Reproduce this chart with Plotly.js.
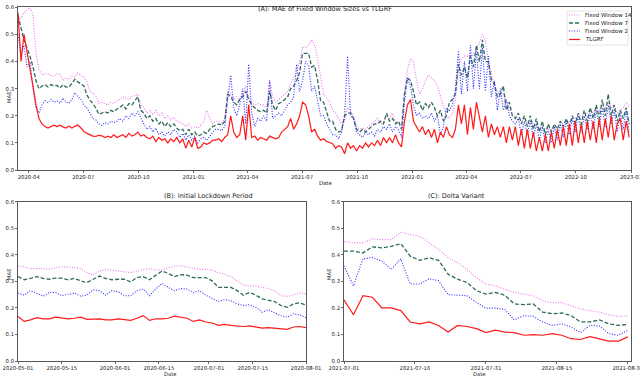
<!DOCTYPE html>
<html>
<head>
<meta charset="utf-8">
<script src="https://cdn.plot.ly/plotly-3.0.1.min.js"></script>
<style>
  html, body { margin: 0; padding: 0; background: white; }
  #plot { width: 640px; height: 379px; }
</style>
</head>
<body>
<div id="plot"></div>
<script>
// --- Data: full period, one reading every 5 days from 2020-03-14 ---
const fullStart = "2020-03-14";
const fullStepDays = 5;

const fw14Full = [
  0.54, 0.56, 0.58, 0.59, 0.60, 0.57, 0.43, 0.37, 0.35, 0.355,
  0.355, 0.348, 0.345, 0.355, 0.352, 0.33, 0.339, 0.335, 0.345, 0.343,
  0.358, 0.348, 0.342, 0.325, 0.29, 0.283, 0.273, 0.246, 0.25, 0.245,
  0.24, 0.25, 0.245, 0.255, 0.26, 0.27, 0.265, 0.26, 0.27, 0.275,
  0.28, 0.24, 0.23, 0.21, 0.22, 0.205, 0.22, 0.20, 0.21, 0.19,
  0.20, 0.185, 0.195, 0.18, 0.175, 0.17, 0.16, 0.17, 0.155, 0.16,
  0.155, 0.165, 0.18, 0.22, 0.19, 0.17, 0.18, 0.18, 0.175, 0.19,
  0.29, 0.28, 0.26, 0.27, 0.26, 0.28, 0.31, 0.27, 0.25, 0.24,
  0.245, 0.24, 0.24, 0.23, 0.33, 0.27, 0.25, 0.26, 0.27, 0.28,
  0.29, 0.32, 0.34, 0.36, 0.40, 0.455, 0.45, 0.46, 0.48, 0.46,
  0.41, 0.35, 0.28, 0.265, 0.25, 0.22, 0.21, 0.19, 0.17, 0.18,
  0.23, 0.22, 0.20, 0.16, 0.15, 0.155, 0.15, 0.16, 0.17, 0.18,
  0.19, 0.17, 0.18, 0.20, 0.19, 0.21, 0.18, 0.17, 0.16, 0.29,
  0.37, 0.41, 0.40, 0.33, 0.28, 0.30, 0.33, 0.35, 0.34, 0.33,
  0.31, 0.27, 0.24, 0.20, 0.19, 0.21, 0.26, 0.38, 0.41, 0.42,
  0.42, 0.41, 0.43, 0.44, 0.47, 0.50, 0.48, 0.40, 0.36, 0.30,
  0.29, 0.27, 0.28, 0.25, 0.23, 0.20, 0.20, 0.19, 0.18, 0.19,
  0.17, 0.18, 0.16, 0.17, 0.15, 0.16, 0.15, 0.155, 0.15, 0.16,
  0.16, 0.17, 0.17, 0.18, 0.18, 0.19, 0.19, 0.20, 0.20, 0.21,
  0.21, 0.22, 0.21, 0.23, 0.22, 0.24, 0.23, 0.25, 0.23, 0.24,
  0.21, 0.22, 0.23, 0.25, 0.23
];

const fw7Full = [
  0.57, 0.52, 0.48, 0.45, 0.42, 0.38, 0.33, 0.30, 0.31, 0.315,
  0.306, 0.315, 0.31, 0.312, 0.302, 0.315, 0.306, 0.305, 0.318, 0.335,
  0.325, 0.318, 0.31, 0.277, 0.258, 0.245, 0.228, 0.205, 0.21, 0.215,
  0.21, 0.22, 0.215, 0.225, 0.23, 0.24, 0.225, 0.245, 0.24, 0.255,
  0.27, 0.22, 0.21, 0.19, 0.20, 0.18, 0.19, 0.17, 0.18, 0.16,
  0.175, 0.16, 0.17, 0.155, 0.145, 0.15, 0.13, 0.15, 0.13, 0.14,
  0.125, 0.13, 0.14, 0.135, 0.15, 0.16, 0.165, 0.17, 0.165, 0.18,
  0.28, 0.27, 0.25, 0.24, 0.26, 0.27, 0.29, 0.26, 0.24, 0.23,
  0.22, 0.215, 0.22, 0.21, 0.29, 0.24, 0.22, 0.245, 0.25, 0.26,
  0.27, 0.30, 0.31, 0.33, 0.36, 0.43, 0.43, 0.43, 0.38, 0.385,
  0.33, 0.255, 0.25, 0.215, 0.18, 0.18, 0.15, 0.14, 0.145, 0.20,
  0.21, 0.21, 0.19, 0.15, 0.14, 0.15, 0.14, 0.15, 0.16, 0.17,
  0.17, 0.18, 0.17, 0.21, 0.18, 0.19, 0.17, 0.18, 0.15, 0.28,
  0.34, 0.33, 0.29, 0.24, 0.25, 0.22, 0.245, 0.23, 0.25, 0.23,
  0.20, 0.22, 0.18, 0.20, 0.25, 0.26, 0.28, 0.39, 0.35, 0.38,
  0.34, 0.42, 0.38, 0.46, 0.40, 0.48, 0.40, 0.40, 0.33, 0.32,
  0.27, 0.28, 0.31, 0.22, 0.25, 0.20, 0.19, 0.21, 0.17, 0.20,
  0.16, 0.20, 0.15, 0.19, 0.14, 0.18, 0.13, 0.17, 0.14, 0.17,
  0.15, 0.18, 0.16, 0.19, 0.16, 0.20, 0.17, 0.21, 0.17, 0.22,
  0.18, 0.23, 0.19, 0.24, 0.19, 0.26, 0.20, 0.28, 0.20, 0.24,
  0.18, 0.22, 0.19, 0.23, 0.17
];

const fw2Full = [
  0.50, 0.42, 0.46, 0.38, 0.40, 0.30, 0.23, 0.21, 0.24, 0.255,
  0.248, 0.26, 0.25, 0.255, 0.246, 0.265, 0.25, 0.246, 0.26, 0.285,
  0.27, 0.26, 0.24, 0.228, 0.21, 0.19, 0.185, 0.17, 0.165, 0.175,
  0.17, 0.18, 0.175, 0.18, 0.19, 0.18, 0.20, 0.19, 0.21, 0.20,
  0.215, 0.19, 0.17, 0.15, 0.16, 0.14, 0.155, 0.13, 0.14, 0.125,
  0.14, 0.13, 0.15, 0.14, 0.12, 0.135, 0.11, 0.13, 0.11, 0.125,
  0.10, 0.115, 0.12, 0.11, 0.125, 0.14, 0.15, 0.15, 0.145, 0.16,
  0.26, 0.35, 0.23, 0.20, 0.24, 0.30, 0.17, 0.39, 0.21, 0.16,
  0.19, 0.18, 0.20, 0.18, 0.33, 0.19, 0.20, 0.21, 0.20, 0.22,
  0.24, 0.25, 0.27, 0.39, 0.29, 0.33, 0.40, 0.385, 0.29, 0.31,
  0.25, 0.20, 0.20, 0.17, 0.15, 0.13, 0.13, 0.115, 0.14, 0.20,
  0.42, 0.20, 0.19, 0.14, 0.13, 0.12, 0.14, 0.13, 0.14, 0.125,
  0.15, 0.14, 0.16, 0.15, 0.17, 0.14, 0.16, 0.15, 0.12, 0.25,
  0.34, 0.31, 0.24, 0.20, 0.21, 0.19, 0.20, 0.19, 0.21, 0.18,
  0.20, 0.13, 0.16, 0.23, 0.22, 0.24, 0.30, 0.44, 0.28, 0.40,
  0.29, 0.46, 0.30, 0.44, 0.30, 0.45, 0.29, 0.42, 0.27, 0.33,
  0.22, 0.30, 0.22, 0.26, 0.20, 0.18, 0.17, 0.19, 0.13, 0.18,
  0.13, 0.18, 0.12, 0.17, 0.11, 0.16, 0.10, 0.15, 0.10, 0.16,
  0.11, 0.17, 0.12, 0.18, 0.13, 0.19, 0.14, 0.20, 0.14, 0.20,
  0.15, 0.21, 0.15, 0.22, 0.16, 0.23, 0.16, 0.24, 0.17, 0.22,
  0.14, 0.21, 0.15, 0.22, 0.14
];

const tlgrfFull = [
  0.58, 0.40, 0.50, 0.44, 0.38, 0.31, 0.24, 0.19, 0.17, 0.16,
  0.155, 0.159, 0.165, 0.16, 0.165, 0.159, 0.155, 0.162, 0.155, 0.161,
  0.166, 0.155, 0.142, 0.135, 0.13, 0.125, 0.124, 0.128, 0.126, 0.12,
  0.125, 0.12, 0.13, 0.12, 0.125, 0.13, 0.12, 0.135, 0.125, 0.13,
  0.14, 0.125, 0.13, 0.12, 0.115, 0.125, 0.105, 0.12, 0.11, 0.115,
  0.10, 0.115, 0.105, 0.12, 0.10, 0.115, 0.08, 0.11, 0.085, 0.12,
  0.08, 0.085, 0.10, 0.095, 0.10, 0.11, 0.11, 0.115, 0.105, 0.12,
  0.13, 0.20, 0.14, 0.12, 0.13, 0.20, 0.11, 0.24, 0.12, 0.125,
  0.11, 0.12, 0.115, 0.11, 0.125, 0.12, 0.115, 0.12, 0.14, 0.15,
  0.16, 0.19, 0.15, 0.17, 0.20, 0.25, 0.24, 0.20, 0.14, 0.15,
  0.125, 0.11, 0.115, 0.105, 0.10, 0.097, 0.08, 0.09, 0.085, 0.06,
  0.10, 0.08, 0.09, 0.07, 0.09, 0.08, 0.10, 0.085, 0.10, 0.09,
  0.11, 0.09, 0.12, 0.10, 0.12, 0.10, 0.13, 0.10, 0.085, 0.18,
  0.24, 0.26, 0.18, 0.16, 0.14, 0.16, 0.13, 0.15, 0.12, 0.15,
  0.10, 0.14, 0.12, 0.16, 0.13, 0.12, 0.15, 0.24, 0.17, 0.24,
  0.13, 0.23, 0.15, 0.25, 0.20, 0.14, 0.20, 0.12, 0.17, 0.13,
  0.16, 0.12, 0.16, 0.10, 0.16, 0.11, 0.16, 0.09, 0.15, 0.08,
  0.15, 0.08, 0.14, 0.07, 0.12, 0.07, 0.13, 0.07, 0.14, 0.08,
  0.15, 0.09, 0.16, 0.09, 0.17, 0.09, 0.18, 0.10, 0.17, 0.10,
  0.18, 0.11, 0.18, 0.10, 0.19, 0.11, 0.19, 0.12, 0.20, 0.11,
  0.17, 0.19, 0.11, 0.18, 0.12
];

// --- Data: (B) initial lockdown, every 2 days from 2020-05-01 ---
const lockStart = "2020-05-01";
const lockStepDays = 2;
const fw14Lock = [
  0.358, 0.355, 0.348, 0.348, 0.348, 0.345, 0.352, 0.355, 0.354, 0.352,
  0.348, 0.333, 0.323, 0.339, 0.345, 0.342, 0.339, 0.335, 0.333, 0.338,
  0.345, 0.348, 0.343, 0.343, 0.352, 0.358, 0.358, 0.354, 0.348, 0.345,
  0.345, 0.342, 0.333, 0.327, 0.318, 0.302, 0.286, 0.283, 0.283, 0.277,
  0.273, 0.265, 0.246, 0.244, 0.248, 0.256, 0.252
];
const fw7Lock = [
  0.318, 0.306, 0.311, 0.318, 0.311, 0.308, 0.312, 0.312, 0.306, 0.311,
  0.302, 0.295, 0.308, 0.32, 0.311, 0.306, 0.308, 0.308, 0.298, 0.314,
  0.318, 0.306, 0.323, 0.339, 0.33, 0.318, 0.325, 0.323, 0.314, 0.314,
  0.314, 0.302, 0.277, 0.277, 0.277, 0.265, 0.248, 0.258, 0.248, 0.234,
  0.23, 0.224, 0.209, 0.202, 0.215, 0.219, 0.211
];
const fw2Lock = [
  0.256, 0.248, 0.265, 0.256, 0.244, 0.258, 0.258, 0.246, 0.252, 0.256,
  0.244, 0.248, 0.268, 0.265, 0.248, 0.265, 0.261, 0.246, 0.246, 0.265,
  0.271, 0.246, 0.271, 0.292, 0.277, 0.265, 0.273, 0.271, 0.258, 0.265,
  0.248, 0.236, 0.224, 0.231, 0.227, 0.215, 0.209, 0.212, 0.202, 0.184,
  0.193, 0.181, 0.171, 0.165, 0.178, 0.174, 0.163
];
const tlgrfLock = [
  0.168, 0.149, 0.155, 0.163, 0.159, 0.159, 0.165, 0.163, 0.159, 0.161,
  0.165, 0.157, 0.159, 0.159, 0.155, 0.155, 0.159, 0.155, 0.153, 0.161,
  0.171, 0.153, 0.159, 0.159, 0.161, 0.169, 0.165, 0.161, 0.149, 0.155,
  0.147, 0.143, 0.134, 0.138, 0.134, 0.132, 0.13, 0.132, 0.128, 0.124,
  0.126, 0.124, 0.122, 0.119, 0.128, 0.13, 0.126
];

// --- Data: (C) delta variant, every 2 days from 2021-07-01 ---
const deltaStart = "2021-07-01";
const deltaStepDays = 2;
const fw14Delta = [
  0.45, 0.445, 0.445, 0.46, 0.457, 0.457, 0.485, 0.476, 0.47, 0.445,
  0.42, 0.39, 0.37, 0.345, 0.314, 0.29, 0.283, 0.27, 0.258, 0.252,
  0.246, 0.227, 0.219, 0.22, 0.209, 0.196, 0.19, 0.184, 0.174, 0.168, 0.171
];
const fw7Delta = [
  0.414, 0.414, 0.407, 0.43, 0.426, 0.432, 0.442, 0.395, 0.379, 0.389,
  0.379, 0.327, 0.308, 0.296, 0.265, 0.252, 0.258, 0.248, 0.215, 0.212,
  0.215, 0.184, 0.178, 0.181, 0.171, 0.147, 0.147, 0.155, 0.14, 0.134, 0.138
];
const fw2Delta = [
  0.358, 0.283, 0.385, 0.39, 0.376, 0.345, 0.385, 0.29, 0.29, 0.31,
  0.302, 0.25, 0.248, 0.246, 0.221, 0.199, 0.199, 0.194, 0.155, 0.171,
  0.168, 0.147, 0.134, 0.14, 0.128, 0.107, 0.134, 0.132, 0.103, 0.097, 0.116
];
const tlgrfDelta = [
  0.23, 0.174, 0.246, 0.24, 0.2, 0.2, 0.19, 0.147, 0.14, 0.147,
  0.134, 0.109, 0.134, 0.13, 0.122, 0.107, 0.116, 0.109, 0.107, 0.097,
  0.099, 0.097, 0.103, 0.097, 0.084, 0.081, 0.092, 0.084, 0.075, 0.075, 0.091
];

const seriesNames = ["Fixed Window 14", "Fixed Window 7", "Fixed Window 2", "TLGRF"];
const yTicks = [0, 0.1, 0.2, 0.3, 0.4, 0.5, 0.6];
const lockTicks = ["2020-05-01", "2020-05-15", "2020-06-01", "2020-06-15", "2020-07-01", "2020-07-15", "2020-08-01"];
const deltaTicks = ["2021-07-01", "2021-07-16", "2021-07-31", "2021-08-15", "2021-08-30"];

// --- helpers ---
function dateSeries(start, step, n) {
  const out = [];
  const t0 = new Date(start + "T00:00:00Z").getTime();
  for (let i = 0; i < n; i++) {
    out.push(new Date(t0 + i * step * 86400000).toISOString().slice(0, 10));
  }
  return out;
}

const styles = [
  { color: "#ee6fee", width: 1.1, dash: "1px,1.6px" },
  { color: "#2f6b5c", width: 1.3, dash: "4px,2px" },
  { color: "#2b2bff", width: 1.1, dash: "1px,1.6px" },
  { color: "#ff1a1a", width: 1.2, dash: "solid" }
];

function makeTraces(dates, sets, xa, ya) {
  return sets.map((vals, k) => ({
    x: dates,
    y: vals,
    xaxis: xa,
    yaxis: ya,
    type: "scatter",
    mode: "lines",
    name: seriesNames[k],
    showlegend: false,
    line: styles[k]
  }));
}

const fullDates = dateSeries(fullStart, fullStepDays, tlgrfFull.length);
const lockDates = dateSeries(lockStart, lockStepDays, tlgrfLock.length);
const deltaDates = dateSeries(deltaStart, deltaStepDays, tlgrfDelta.length);

const data = [
  ...makeTraces(fullDates, [fw14Full, fw7Full, fw2Full, tlgrfFull], "x", "y"),
  ...makeTraces(lockDates, [fw14Lock, fw7Lock, fw2Lock, tlgrfLock], "x2", "y2"),
  ...makeTraces(deltaDates, [fw14Delta, fw7Delta, fw2Delta, tlgrfDelta], "x3", "y3")
];

// --- Layout ---
const W = 640, H = 379;
const px = v => v / W;
const py = v => 1 - v / H;

const font = { family: "DejaVu Sans, sans-serif", size: 5.3, color: "#222" };
const axisBase = {
  showgrid: false,
  zeroline: false,
  showline: true,
  mirror: true,
  linecolor: "#444",
  linewidth: 0.9,
  ticks: "outside",
  ticklen: 2,
  tickwidth: 0.8,
  tickcolor: "#444",
  tickfont: font,
  ticklabeloverflow: "allow"
};
const yBase = Object.assign({}, axisBase, {
  range: [0, 0.6], tickvals: yTicks, tickformat: ".1f"
});

function ann(text, x, y, size, opts) {
  return Object.assign({
    text: text, x: x, y: y, xref: "paper", yref: "paper",
    showarrow: false,
    font: { family: "DejaVu Sans, sans-serif", size: size, color: "#222" }
  }, opts || {});
}

// hand-made compact legend (Plotly's own legend rows are too tall at this size)
const legendRows = [15, 23, 31, 39.5];
const legendShapes = [{
  type: "rect", xref: "paper", yref: "paper",
  x0: px(567), x1: px(628), y0: py(11), y1: py(45),
  fillcolor: "rgba(255,255,255,0.9)", line: { color: "#ddd", width: 0.8 }
}];
const legendNotes = [];
seriesNames.forEach((name, k) => {
  legendShapes.push({
    type: "line", xref: "paper", yref: "paper",
    x0: px(569), x1: px(580), y0: py(legendRows[k]), y1: py(legendRows[k]),
    line: styles[k]
  });
  legendNotes.push(ann(name, px(583), py(legendRows[k]), 5.5,
    { xanchor: "left", yanchor: "middle" }));
});

const layout = {
  width: W,
  height: H,
  margin: { l: 0, r: 0, t: 0, b: 0 },
  paper_bgcolor: "white",
  plot_bgcolor: "white",
  font: font,
  showlegend: false,
  xaxis: Object.assign({}, axisBase, {
    domain: [px(18), px(631)], anchor: "y", type: "date",
    range: ["2020-03-14", "2023-01-01"],
    tick0: "2020-04-01", dtick: "M3", tickformat: "%Y-%m"
  }),
  yaxis: Object.assign({}, yBase, { domain: [py(170), py(7.3)], anchor: "x" }),
  xaxis2: Object.assign({}, axisBase, {
    domain: [px(18), px(306)], anchor: "y2", type: "date",
    range: ["2020-05-01", "2020-08-01"],
    tickvals: lockTicks, tickformat: "%Y-%m-%d"
  }),
  yaxis2: Object.assign({}, yBase, { domain: [py(361), py(201.7)], anchor: "x2" }),
  xaxis3: Object.assign({}, axisBase, {
    domain: [px(344), px(631)], anchor: "y3", type: "date",
    range: ["2021-07-01", "2021-08-30 16:00"],
    tickvals: deltaTicks, tickformat: "%Y-%m-%d"
  }),
  yaxis3: Object.assign({}, yBase, { domain: [py(361), py(201.7)], anchor: "x3" }),
  shapes: legendShapes,
  annotations: [
    ann("(A): MAE of Fixed Window Sizes vs TLGRF", px(325), py(3.5), 6.5),
    ann("(B): Initial Lockdown Period", px(162), py(196), 6.5),
    ann("(C): Delta Variant", px(487), py(196), 6.5),
    ann("Date", px(325), py(183), 5.3),
    ann("Date", px(162), py(379), 5.2, { yanchor: "bottom" }),
    ann("Date", px(487), py(379), 5.2, { yanchor: "bottom" }),
    ann("MAE", px(4), py(89), 5.3, { textangle: -90 }),
    ann("MAE", px(4), py(282), 5.3, { textangle: -90 }),
    ann("MAE", px(329), py(282), 5.3, { textangle: -90 }),
    ...legendNotes
  ]
};

Plotly.newPlot("plot", data, layout, { staticPlot: true, displayModeBar: false });
</script>
</body>
</html>
